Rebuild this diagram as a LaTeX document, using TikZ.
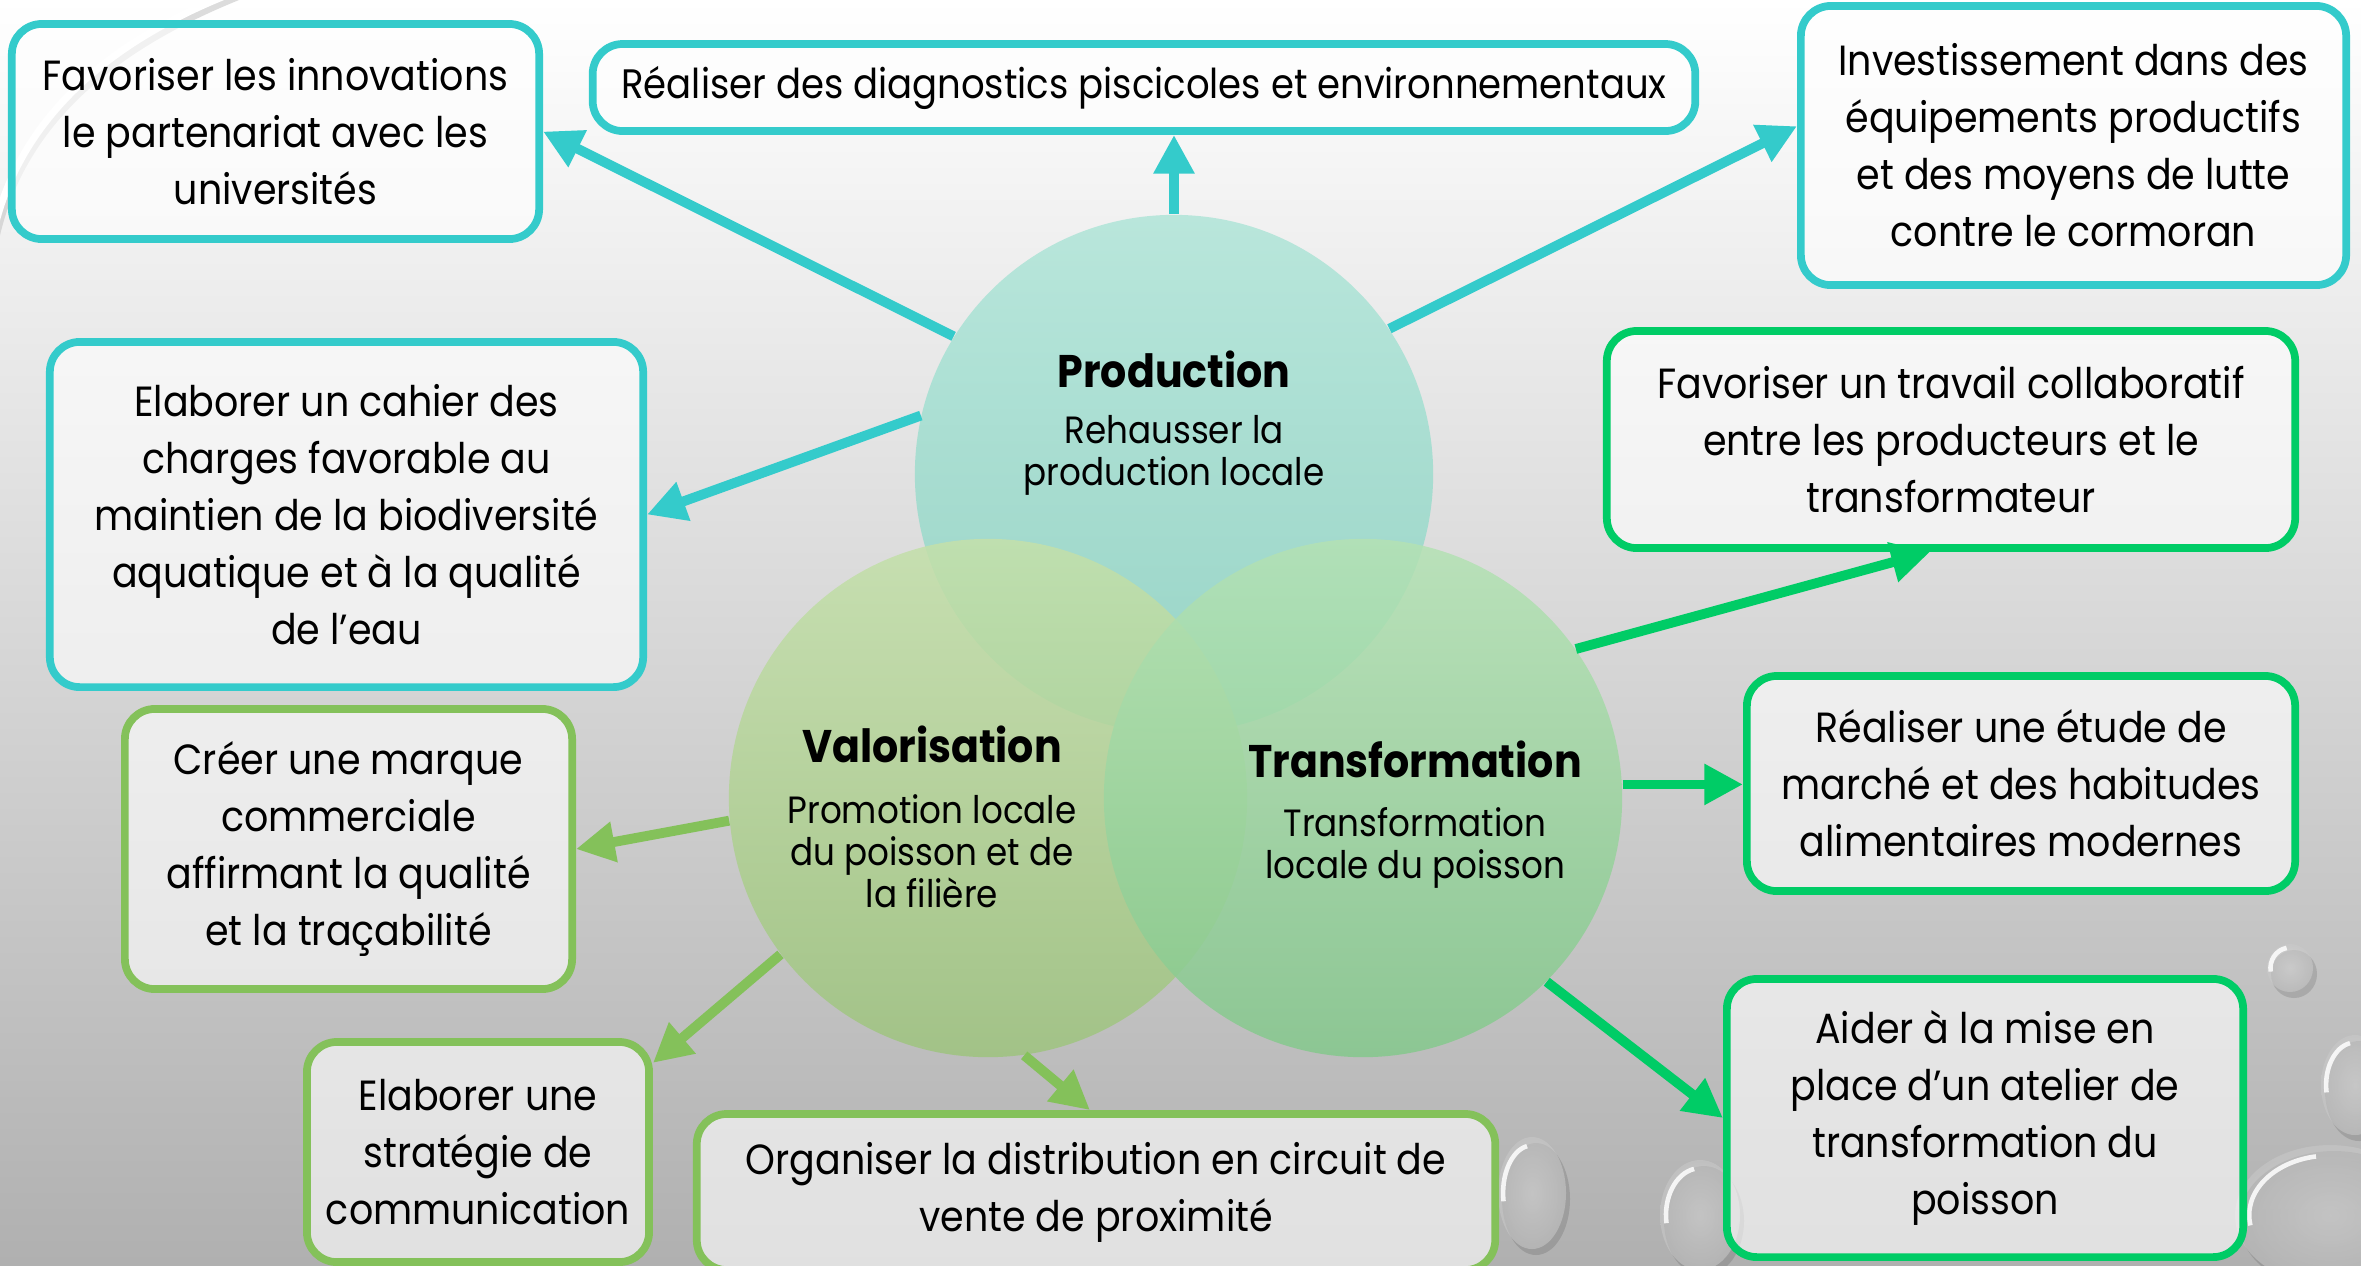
\documentclass[tikz,border=0pt]{standalone}
\usepackage{fontspec}
\setmainfont{Poppins}[FakeStretch=0.9]
\usetikzlibrary{arrows.meta,shapes.geometric}
\definecolor{tealc}{HTML}{34CBCB}
\definecolor{greenv}{HTML}{84C15A}
\definecolor{greent}{HTML}{00CC66}
\newcommand{\boxfont}{\fontsize{12}{16.2}\selectfont}
\newcommand{\ttlfont}{\fontsize{13}{15}\selectfont\bfseries}
\newcommand{\subfont}{\fontsize{10.8}{12}\selectfont}
\tikzset{
  box/.style={draw, line width=2.2pt, rounded corners=0.3cm, fill=white, fill opacity=0.62, text opacity=1, align=center, inner sep=0pt, font=\boxfont},
  tbox/.style={box, draw=tealc},
  vbox/.style={box, draw=greenv},
  gbox/.style={box, draw=greent},
  circ/.style={circle, minimum size=5.18cm, inner sep=0pt, fill opacity=0.85},
  ttl/.style={font=\ttlfont, align=center, inner sep=0pt},
  sub/.style={font=\subfont, align=center, inner sep=0pt},
  arr/.style={line width=2.8pt, -{Triangle[length=11pt,width=11pt]}},
  tarrow/.style={arr, draw=tealc, fill=tealc},
  varrow/.style={arr, draw=greenv, fill=greenv},
  garrow/.style={arr, draw=greent, fill=greent},
  dropshadow/.style={fill=black, opacity=0.12},
  dropbody/.style={inner color=gray!22, outer color=gray!42, opacity=0.55},
  drophi/.style={draw=white, line width=1.3pt, opacity=0.85},
}
\begin{document}
\begin{tikzpicture}[x=0.01cm,y=-0.01cm]
\useasboundingbox (0,0) rectangle (2361,1265);
\shade[top color=white, bottom color=black!31] (0,0) rectangle (2361,1265);

% background decoration (swirl and droplets)
\draw[gray!45, line width=3pt, opacity=0.6] (-10,260) .. controls (10,120) and (120,40) .. (250,-10);
\draw[white, line width=2pt] (-10,250) .. controls (12,115) and (118,36) .. (240,-10);
\foreach \cx/\cy/\rx/\ry in {2290/968/23/24, 2355/1085/34/50, 1532/1193/34/56, 1700/1215/40/55, 2330/1215/95/70} {
  \fill[dropshadow] (\cx+4,\cy+6) ellipse ({\rx*0.01cm} and {\ry*0.01cm});
  \shade[dropbody] (\cx,\cy) ellipse ({\rx*0.01cm} and {\ry*0.01cm});
  \draw[drophi] (\cx,\cy) ++(100:{\rx*0.0085cm} and {\ry*0.0085cm}) arc[start angle=100, end angle=190, x radius={\rx*0.0085cm}, y radius={\ry*0.0085cm}];
}

% circles
\node[circ, top color={rgb,255:red,176;green,229;blue,216}, bottom color={rgb,255:red,140;green,212;blue,196}] (prod) at (1174,474) {};
\node[circ, top color={rgb,255:red,196;green,224;blue,170}, bottom color={rgb,255:red,158;green,196;blue,126}] (val) at (988,798) {};
\node[circ, top color={rgb,255:red,180;green,226;blue,180}, bottom color={rgb,255:red,132;green,200;blue,140}] (trans) at (1363,798) {};

% circle texts
\node[ttl] (ptitle) at (1174,369) {Production};
\node[sub] (psub) at (1174,455) {Rehausser la\\production locale};
\node[ttl] (vtitle) at (932,744) {Valorisation};
\node[sub] (vsub) at (932,851) {Promotion locale\\du poisson et de\\la filière};
\node[ttl] (ttitle) at (1415,759) {Transformation};
\node[sub] (tsub) at (1415,848) {Transformation\\locale du poisson};

% boxes
\node[tbox, minimum width=5.27cm, minimum height=2.15cm] (b1) at (275.5,131.5) {Favoriser les innovations\\le partenariat avec les\\universités};
\node[tbox, minimum width=11.02cm, minimum height=0.87cm, font=\fontsize{11.7}{16.2}\selectfont] (b2) at (1144,87.5) {Réaliser des diagnostics piscicoles et environnementaux};
\node[tbox, minimum width=5.45cm, minimum height=2.79cm] (b3) at (2073.5,145.5) {Investissement dans des\\équipements productifs\\et des moyens de lutte\\contre le cormoran};
\node[tbox, minimum width=5.93cm, minimum height=3.45cm] (b4) at (346.5,514.5) {Elaborer un cahier des\\charges favorable au\\maintien de la biodiversité\\aquatique et à la qualité\\de l’eau};
\node[gbox, minimum width=6.88cm, minimum height=2.17cm] (b5) at (1951,439.5) {Favoriser un travail collaboratif\\entre les producteurs et le\\transformateur};
\node[vbox, minimum width=4.47cm, minimum height=2.80cm] (b6) at (348.5,849) {Créer une marque\\commerciale\\affirmant la qualité\\et la traçabilité};
\node[gbox, minimum width=5.48cm, minimum height=2.15cm] (b7) at (2021,783.5) {Réaliser une étude de\\marché et des habitudes\\alimentaires modernes};
\node[vbox, minimum width=3.42cm, minimum height=2.20cm] (b8) at (478,1152) {Elaborer une\\stratégie de\\communication};
\node[vbox, minimum width=7.98cm, minimum height=1.56cm] (b9) at (1096,1192) {Organiser la distribution en circuit de\\vente de proximité};
\node[gbox, minimum width=5.16cm, minimum height=2.78cm] (b10) at (1985,1118) {Aider à la mise en\\place d’un atelier de\\transformation du\\poisson};

% arrows
\draw[tarrow] (prod.148) -- (b1.east);
\draw[tarrow] (prod.north) -- (prod.north |- b2.south);
\draw[tarrow] (prod.34) -- (b3.176);
\draw[tarrow] (prod.167) -- (b4.east);
\draw[garrow] (trans.35) -- ([xshift=-0.21cm]b5.south);
\draw[garrow] (trans.3) -- (trans.3 -| b7.west);
\draw[garrow] (trans.-45) -- (b10.west);
\draw[varrow] (val.185) -- (b6.east);
\draw[varrow] (val.217) -- (b8.27);
\draw[varrow] (val.-82) -- ([xshift=-0.06cm]b9.north);
\end{tikzpicture}
\end{document}
